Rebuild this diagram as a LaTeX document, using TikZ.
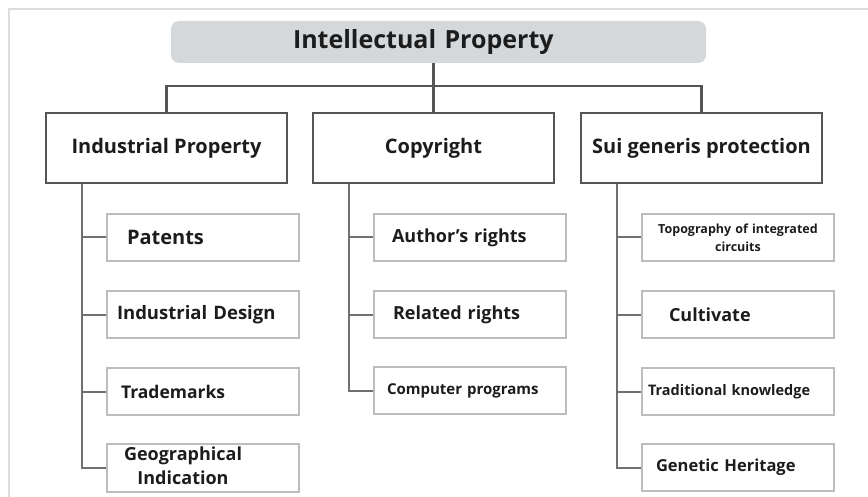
\documentclass[tikz,border=0pt]{standalone}
\usepackage{fontspec}
\setmainfont{Open Sans}
\usepackage{tikz}
\usetikzlibrary{positioning}

\definecolor{blobgray}{HTML}{D5D8DB}
\definecolor{boxline}{HTML}{555555}
\definecolor{leafline}{HTML}{BDBDBD}
\definecolor{twiggray}{HTML}{707070}
\definecolor{framegray}{HTML}{DDDDDD}
\definecolor{ink}{HTML}{1C1C1C}
\newcommand{\boldsize}[2]{\fontsize{#1}{#2}\selectfont\bfseries}

\begin{document}
\begin{tikzpicture}[x=1pt,y=-1pt,node distance=28pt,auto]
	\tikzstyle{headbox}=[rectangle, rounded corners=8pt, fill=blobgray, minimum width=535pt, minimum height=42pt, inner xsep=122pt, text width=291pt, align=left, text=ink, font=\boldsize{25}{30}]
	\tikzstyle{mainbox}=[rectangle, draw=boxline, line width=2pt, minimum width=241pt, minimum height=70pt, text=ink, font=\boldsize{20}{24}]
	\tikzstyle{leafbox}=[rectangle, draw=leafline, line width=2pt, minimum width=192pt, minimum height=47pt, align=left, text=ink]
	\tikzstyle{busline}=[draw=boxline, line width=2.5pt]
	\tikzstyle{twig}=[draw=twiggray, line width=2pt]

	\useasboundingbox (0,0) rectangle (868,497);
	\draw[framegray, line width=2pt] (9,497) |- (868,9);

	\node [headbox] (ipr) at (438.5,42) {Intellectual Property};
	\node [mainbox] (ind) at (166.5,148) {Industrial Property};
	\node [mainbox] (cop) at (433.5,148) {Copyright};
	\node [mainbox] (sui) at (701.5,148) {Sui generis protection};

	\node [leafbox, below right=29pt and 61pt of ind.south west, inner xsep=20pt, text width=152pt, font=\boldsize{20}{24}] (pat) {Patents};
	\node [leafbox, below=of pat, inner xsep=10pt, text width=172pt, font=\boldsize{18.5}{22}] (des) {Industrial Design};
	\node [leafbox, below=of des, inner xsep=14pt, text width=164pt, font=\boldsize{17.5}{21}] (trm) {Trademarks};
	\node [leafbox, below=27pt of trm, inner xsep=17pt, inner ysep=0pt, text width=158pt, font=\boldsize{18}{24}] (geo) {\begin{tabular}{@{}c@{}}Geographical\\Indication\end{tabular}};

	\node [leafbox, below right=29pt and 61pt of cop.south west, inner xsep=18pt, text width=156pt, font=\boldsize{18}{22}] (aut) {Author's rights};
	\node [leafbox, below=of aut, inner xsep=19pt, text width=154pt, font=\boldsize{18}{22}] (rel) {Related rights};
	\node [leafbox, below=27pt of rel, inner xsep=13pt, text width=166pt, font=\boldsize{15}{18}] (cmp) {Computer programs};

	\node [leafbox, below right=29pt and 61pt of sui.south west, align=center, inner xsep=6pt, text width=180pt, font=\boldsize{12.5}{18}] (topo) {Topography of integrated\\circuits};
	\node [leafbox, below=of topo, inner xsep=27pt, text width=138pt, font=\boldsize{18}{22}] (cul) {Cultivate};
	\node [leafbox, below=of cul, inner xsep=6pt, text width=180pt, font=\boldsize{14.5}{18}] (trk) {Traditional knowledge};
	\node [leafbox, below=27pt of trk, inner xsep=14pt, text width=164pt, font=\boldsize{16.5}{20}] (gen) {Genetic Heritage};

	\draw[busline] (ind.north) -- ++(0,-26) -| (sui.north);
	\draw[busline] (ipr.south -| cop.north) -- (cop.north);

	\foreach \leafname in {pat,des,trm,geo}
		\draw[twig] ([xshift=37pt]ind.south west) |- (\leafname.west);
	\foreach \leafname in {aut,rel,cmp}
		\draw[twig] ([xshift=37pt]cop.south west) |- (\leafname.west);
	\foreach \leafname in {topo,cul,trk,gen}
		\draw[twig] ([xshift=37pt]sui.south west) |- (\leafname.west);
\end{tikzpicture}
\end{document}
